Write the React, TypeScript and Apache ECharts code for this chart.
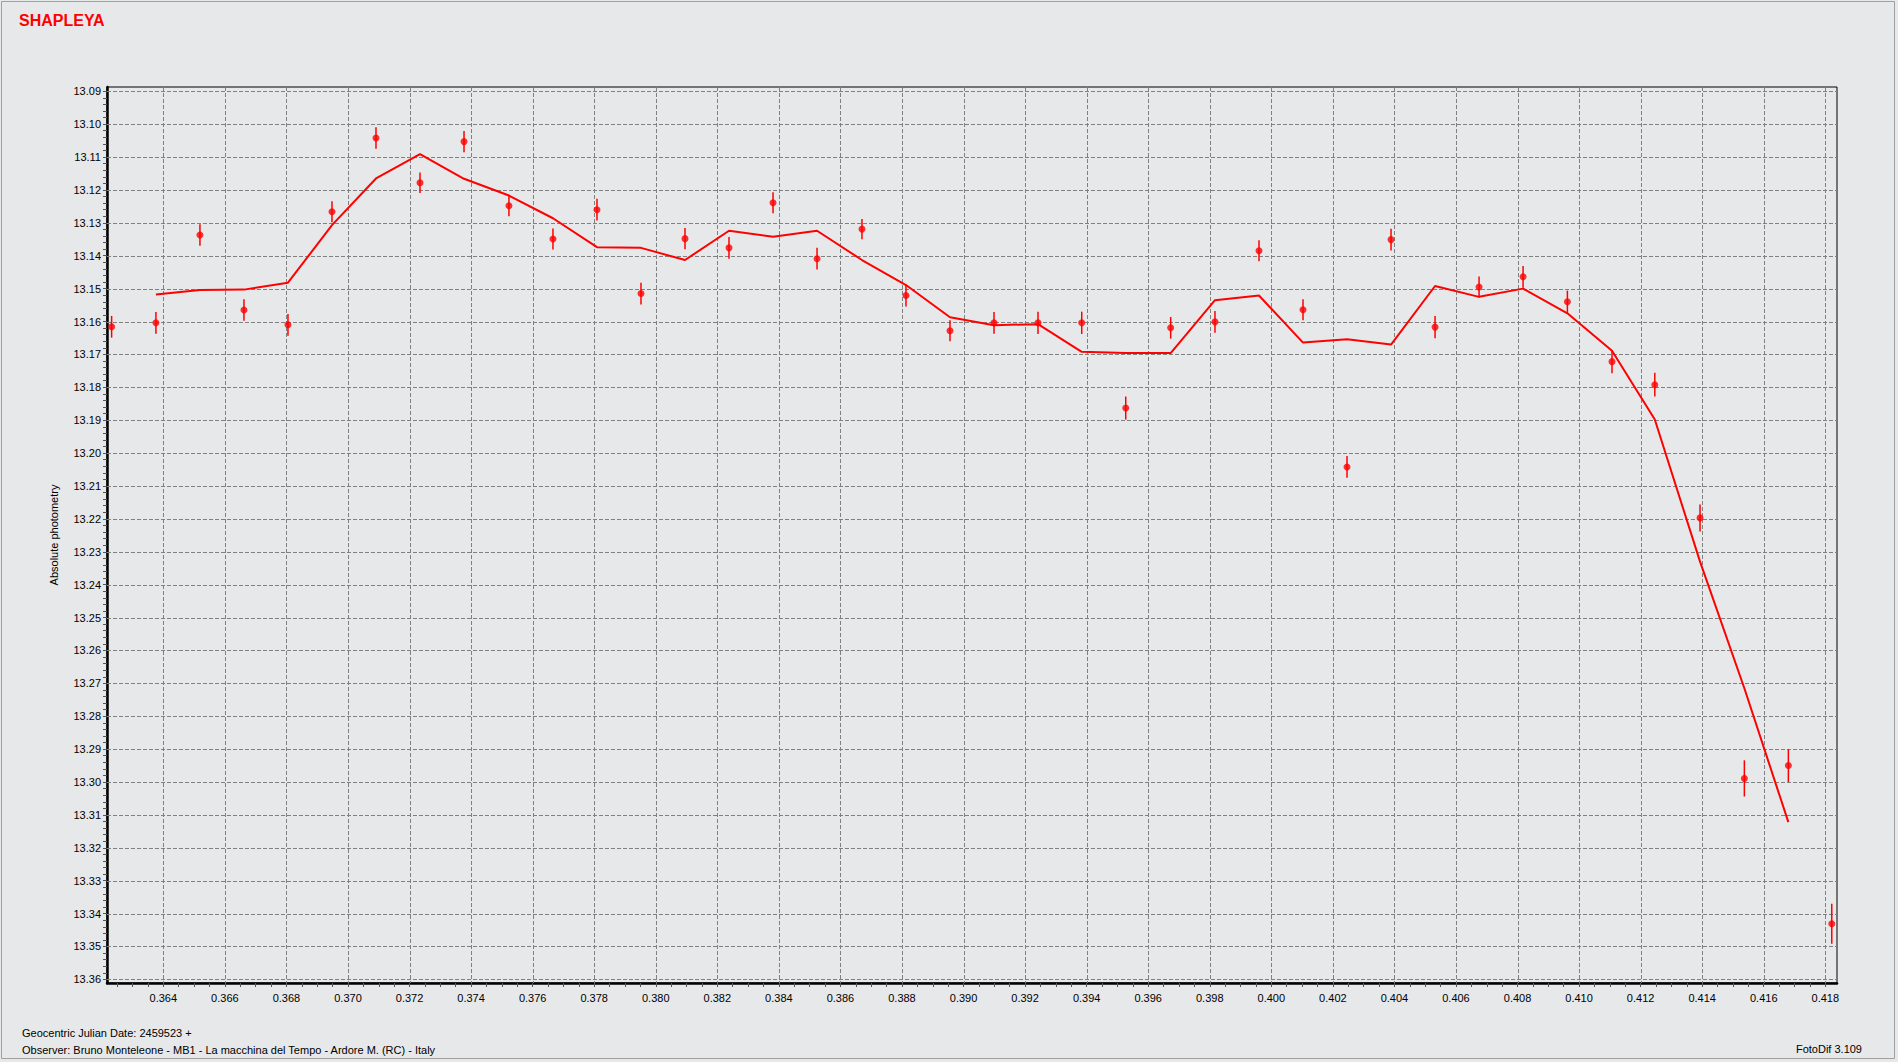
import React, { useEffect, useRef } from "react";
import * as echarts from "echarts";

// Geocentric Julian Date offsets (2459523 +)
const jd = [
  0.36232, 0.36376, 0.36519, 0.36662, 0.36805, 0.36948, 0.37091, 0.37234, 0.37377, 0.37523,
  0.37666, 0.37809, 0.37952, 0.38095, 0.38238, 0.38381, 0.38524, 0.3867, 0.38813, 0.38956,
  0.39099, 0.39242, 0.39384, 0.39527, 0.39673, 0.39817, 0.3996, 0.40103, 0.40246, 0.40389,
  0.40532, 0.40675, 0.40818, 0.40962, 0.41107, 0.41246, 0.41393, 0.41537, 0.4168, 0.41821,
];

// Absolute photometry (magnitudes)
const mag = [
  13.1616, 13.1604, 13.1337, 13.1565, 13.161, 13.1266, 13.1042, 13.1178, 13.1053, 13.1248,
  13.1349, 13.126, 13.1515, 13.1348, 13.1376, 13.1239, 13.1409, 13.1319, 13.1521, 13.1628,
  13.1604, 13.1604, 13.1604, 13.1863, 13.1619, 13.1601, 13.1385, 13.1564, 13.2042, 13.1351,
  13.1617, 13.1495, 13.1464, 13.154, 13.1722, 13.1792, 13.2197, 13.2989, 13.295, 13.3431,
];

// error bar half-length
const err = [
  0.0033, 0.0033, 0.0033, 0.0033, 0.0033, 0.0032, 0.0033, 0.0031, 0.0032, 0.0032,
  0.0032, 0.0033, 0.0033, 0.0032, 0.0033, 0.0032, 0.0033, 0.0031, 0.0033, 0.0032,
  0.0033, 0.0034, 0.0034, 0.0035, 0.0033, 0.0033, 0.0032, 0.0032, 0.0033, 0.0033,
  0.0034, 0.0032, 0.0033, 0.0034, 0.0035, 0.0036, 0.0041, 0.0055, 0.005, 0.0061,
];

// smoothed curve, from the 2nd to the 39th point
const fit = [
  13.1518, 13.1504, 13.1503, 13.1482, 13.1307, 13.1165, 13.1091, 13.1166, 13.1217, 13.1286,
  13.1374, 13.1376, 13.1413, 13.1324, 13.1342, 13.1324, 13.1413, 13.1489, 13.1587, 13.1611,
  13.1608, 13.1692, 13.1696, 13.1696, 13.1535, 13.1521, 13.1664, 13.1654, 13.167, 13.1492,
  13.1525, 13.15, 13.1575, 13.1689, 13.1898, 13.233, 13.2715, 13.3122,
];

const xTicks = [
  0.364, 0.366, 0.368, 0.37, 0.372, 0.374, 0.376, 0.378, 0.38, 0.382, 0.384, 0.386, 0.388, 0.39,
  0.392, 0.394, 0.396, 0.398, 0.4, 0.402, 0.404, 0.406, 0.408, 0.41, 0.412, 0.414, 0.416, 0.418,
];
const yTicks = [
  13.09, 13.1, 13.11, 13.12, 13.13, 13.14, 13.15, 13.16, 13.17, 13.18, 13.19, 13.2, 13.21, 13.22,
  13.23, 13.24, 13.25, 13.26, 13.27, 13.28, 13.29, 13.3, 13.31, 13.32, 13.33, 13.34, 13.35, 13.36,
];

const X_MIN = 0.36217;
const X_MAX = 0.41838;
const Y_MIN = 13.0887;
const Y_MAX = 13.3611;

function minorTicks(major: number[], step: number, lo: number, hi: number) {
  const out: number[] = [];
  const start = major[0];
  for (let k = -20; k < 400; k++) {
    const v = +(start + k * step).toFixed(6);
    if (v >= lo && v <= hi) out.push(v);
  }
  return out;
}

const FONT = '"Liberation Sans", Arial, sans-serif';

export default function App() {
  const ref = useRef<HTMLDivElement>(null);
  useEffect(() => {
    if (!ref.current) return;
    const chart = echarts.init(ref.current, null, { renderer: "svg" });
    const xMinor = minorTicks(xTicks, 0.0005, X_MIN, X_MAX);
    const yMinor = minorTicks(yTicks, 0.002, Y_MIN, Y_MAX);
    const red = "#ff0000";
    const gridStyle = { stroke: "#808080", lineWidth: 1, lineDash: [4, 2] };
    const option: any = {
      animation: false,
      backgroundColor: "#e7e8ea",
      grid: {
        left: 107,
        right: 61,
        top: 87,
        bottom: 79,
        show: true,
        borderColor: "#000",
        borderWidth: 1,
        backgroundColor: "transparent",
      },
      xAxis: {
        type: "value",
        min: X_MIN,
        max: X_MAX,
        axisLine: { show: true, onZero: false, lineStyle: { color: "#000", width: 2.5 } },
        axisTick: { show: true, customValues: xMinor, length: 4, lineStyle: { color: "#555", width: 1 } },
        axisLabel: {
          customValues: xTicks,
          formatter: (v: number) => v.toFixed(3),
          color: "#000",
          fontSize: 11,
          fontFamily: FONT,
          margin: 9,
        },
        splitLine: { show: false },
      },
      yAxis: {
        type: "value",
        inverse: true,
        min: Y_MIN,
        max: Y_MAX,
        axisLine: { show: true, onZero: false, lineStyle: { color: "#000", width: 2.5 } },
        axisTick: { show: true, customValues: yMinor, length: 4, lineStyle: { color: "#555", width: 1 } },
        axisLabel: {
          customValues: yTicks,
          formatter: (v: number) => v.toFixed(2),
          color: "#000",
          fontSize: 11,
          fontFamily: FONT,
          margin: 6,
        },
        splitLine: { show: false },
      },
      graphic: [
        {
          type: "rect",
          shape: { x: 1.5, y: 1.5, width: 1893, height: 1057 },
          style: { fill: "none", stroke: "#a0a0a0", lineWidth: 1 },
          silent: true,
        },
        {
          type: "text",
          x: 19,
          y: 20,
          style: {
            text: "SHAPLEYA",
            fill: red,
            font: `bold 16px ${FONT}`,
            textAlign: "left",
            textVerticalAlign: "middle",
          },
        },
        {
          type: "text",
          x: 54,
          y: 535,
          rotation: Math.PI / 2,
          style: {
            text: "Absolute photometry",
            fill: "#000",
            font: `11px ${FONT}`,
            textAlign: "center",
            textVerticalAlign: "middle",
          },
        },
        {
          type: "text",
          x: 22,
          y: 1033,
          style: {
            text: "Geocentric Julian Date: 2459523 +",
            fill: "#000",
            font: `11px ${FONT}`,
            textAlign: "left",
            textVerticalAlign: "middle",
          },
        },
        {
          type: "text",
          x: 22,
          y: 1050,
          style: {
            text: "Observer: Bruno Monteleone - MB1 - La macchina del Tempo - Ardore M. (RC) - Italy",
            fill: "#000",
            font: `11px ${FONT}`,
            textAlign: "left",
            textVerticalAlign: "middle",
          },
        },
        {
          type: "text",
          x: 1862,
          y: 1049,
          style: {
            text: "FotoDif 3.109",
            fill: "#000",
            font: `11px ${FONT}`,
            textAlign: "right",
            textVerticalAlign: "middle",
          },
        },
      ],
      series: [
        {
          type: "custom",
          z: 1,
          silent: true,
          clip: false,
          data: xTicks.map((v) => [v, Y_MIN]),
          encode: { x: 0, y: 1 },
          renderItem: (params: any, api: any) => {
            const v = api.value(0);
            const p1 = api.coord([v, Y_MIN]);
            const p2 = api.coord([v, Y_MAX]);
            return {
              type: "line",
              shape: { x1: Math.round(p1[0]) + 0.5, y1: p1[1], x2: Math.round(p2[0]) + 0.5, y2: p2[1] },
              style: gridStyle,
            };
          },
        },
        {
          type: "custom",
          z: 1,
          silent: true,
          clip: false,
          data: yTicks.map((v) => [X_MIN, v]),
          encode: { x: 0, y: 1 },
          renderItem: (params: any, api: any) => {
            const v = api.value(1);
            const p1 = api.coord([X_MIN, v]);
            const p2 = api.coord([X_MAX, v]);
            return {
              type: "line",
              shape: { x1: p1[0], y1: Math.round(p1[1]) + 0.5, x2: p2[0], y2: Math.round(p2[1]) + 0.5 },
              style: gridStyle,
            };
          },
        },
        {
          type: "line",
          z: 3,
          data: fit.map((v, i) => [jd[i + 1], v]),
          symbol: "none",
          lineStyle: { color: red, width: 2 },
          itemStyle: { color: red },
        },
        {
          type: "custom",
          z: 4,
          data: jd.map((x, i) => [x, mag[i], err[i]]),
          encode: { x: 0, y: 1 },
          renderItem: (params: any, api: any) => {
            const x = api.value(0);
            const y = api.value(1);
            const e = api.value(2);
            const p1 = api.coord([x, y - e]);
            const p2 = api.coord([x, y + e]);
            return {
              type: "line",
              shape: { x1: p1[0], y1: p1[1], x2: p2[0], y2: p2[1] },
              style: { stroke: red, lineWidth: 1.5 },
            };
          },
        },
        {
          type: "scatter",
          z: 5,
          data: jd.map((x, i) => [x, mag[i]]),
          symbol: "circle",
          symbolSize: 7,
          itemStyle: { color: red },
        },
      ],
    };
    chart.setOption(option);
    return () => chart.dispose();
  }, []);
  return (
    <div
      ref={ref}
      style={{ position: "absolute", left: 0, top: 0, width: 1898, height: 1062 }}
    />
  );
}
